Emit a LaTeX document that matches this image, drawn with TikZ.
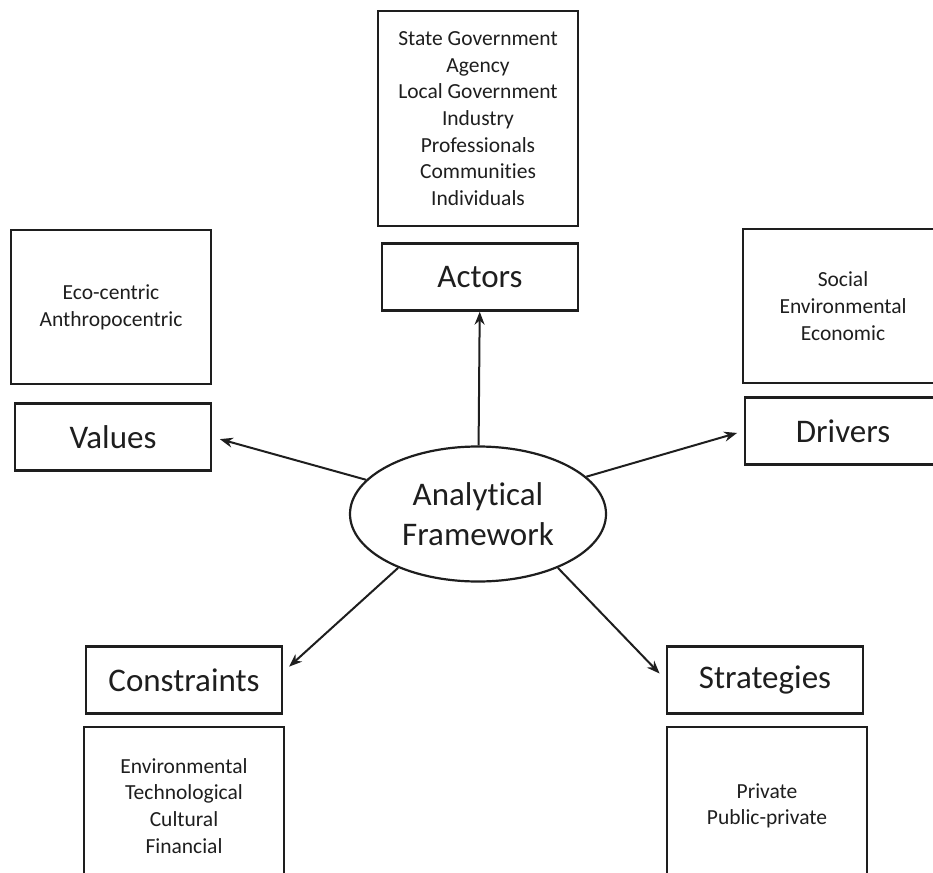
\documentclass[tikz,border=0pt]{standalone}
\usepackage{fontspec}
\setmainfont{Carlito}[RawFeature={-liga;-dlig;-clig}]
\usepackage{tikz}
\usetikzlibrary{positioning, arrows.meta, shapes.geometric}
\usepackage{xcolor}
\definecolor{ink}{HTML}{1E1E1E}

\begin{document}
\begin{tikzpicture}[x=1pt, y=-1pt, node distance=14pt,
	every node/.style={text=ink},
	labelbox/.style={draw=ink, line width=2.4pt, minimum width=196pt, minimum height=67pt, inner sep=0pt, font=\fontsize{33}{40}\selectfont},
	infobox/.style={draw=ink, line width=2.4pt, minimum width=200pt, inner sep=0pt, align=center, font=\fontsize{21.5}{26.7}\selectfont},
	>={Stealth[length=13pt, width=10pt]}]
	\useasboundingbox (0,0) rectangle (933,872);
	\clip (0,0) rectangle (933,872);
	\node[ellipse, draw=ink, line width=2.2pt, minimum width=256pt, minimum height=135pt, inner sep=0pt, align=center, font=\fontsize{33}{40}\selectfont] (fw) at (478,514) {Analytical\\Framework};
	\node[labelbox] (actors) at (480,277) {Actors};
	\node[labelbox] (values) at (113,437) {Values};
	\node[labelbox] (drivers) at (843,431) {Drivers};
	\node[labelbox] (cons) at (184,680) {Constraints};
	\node[labelbox] (strat) at (765,680) {Strategies};
	\node[infobox, minimum height=215pt, above=15pt of actors, xshift=-2pt] (actinfo) {State Government\\Agency\\Local Government\\Industry\\Professionals\\Communities\\Individuals};
	\node[infobox, minimum height=154pt, above=17pt of values, xshift=-2pt] (valinfo) {Eco-centric\\Anthropocentric};
	\node[infobox, minimum height=154pt, above=12pt of drivers] (drvinfo) {Social\\Environmental\\Economic};
	\node[infobox, minimum height=158pt, below=11pt of cons] (consinfo) {Environmental\\Technological\\Cultural\\Financial};
	\node[infobox, minimum height=158pt, below=11pt of strat, xshift=2pt] (stratinfo) {Private\\Public-private};
	\draw[line width=2pt, ink]
	(fw) edge[->] (actors)
	(fw.163) edge[->, shorten >=8pt] (values.east)
	(fw.19.5) edge[->, shorten >=7pt] (drivers.west)
	(fw.214.7) edge[->, shorten >=8pt] ([yshift=8pt]cons.east)
	(fw.326.8) edge[->, shorten >=9pt] (strat.west);
\end{tikzpicture}
\end{document}
